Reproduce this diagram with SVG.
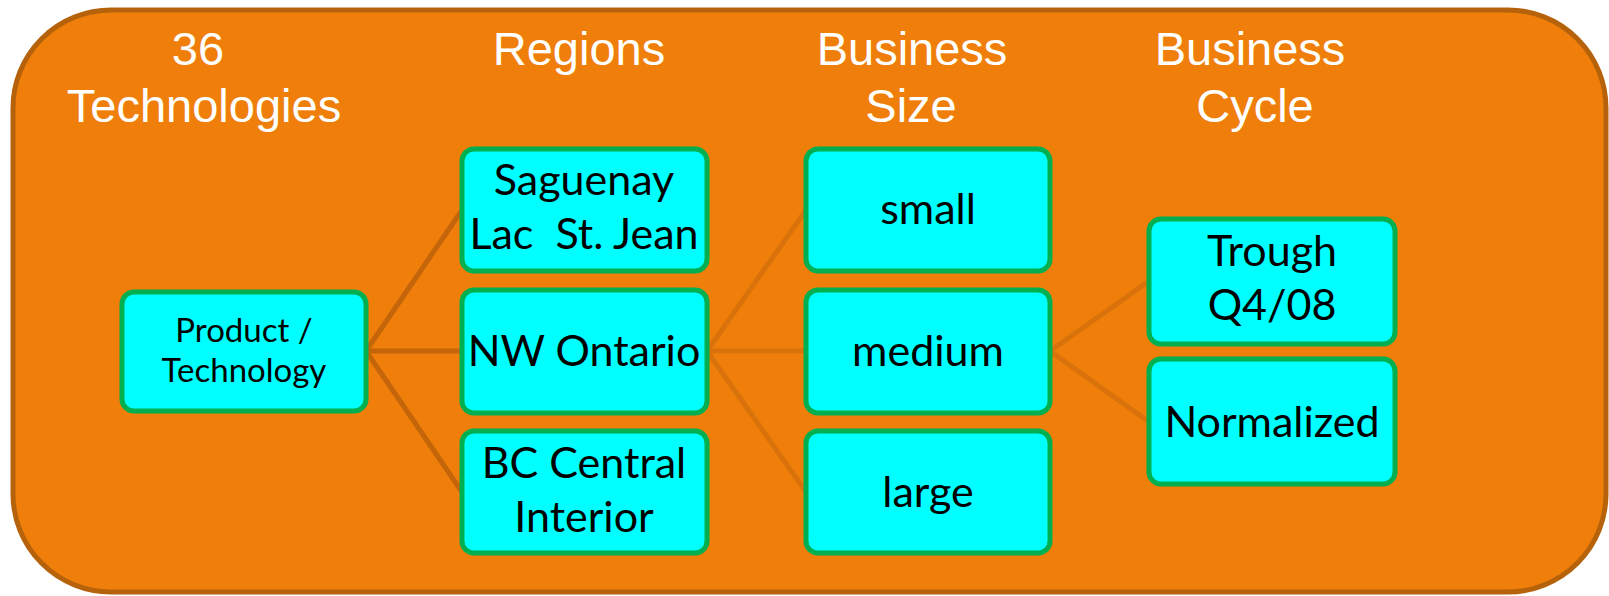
<svg xmlns="http://www.w3.org/2000/svg" width="1609" height="596" viewBox="0 0 1609 596">
<style>
.bg{fill:#EF7F0A;stroke:#B5620B;stroke-width:5}
.node{fill:#00FFFF;stroke:#00B050;stroke-width:5}
.hdr{font-family:"Liberation Sans",Arial,sans-serif;font-size:47px;fill:#FFFFFF;text-anchor:middle}
.lbl{font-family:Lato,"Noto Sans",sans-serif;font-size:43px;fill:#000000;text-anchor:middle}
.sm{font-size:33px}
.c1{stroke:#C4650A;stroke-width:5;fill:none}
.c2{stroke:#D9720A;stroke-width:5;fill:none}
</style>
<rect class="bg" x="13" y="10" width="1593" height="582" rx="98" ry="98"/>
<g id="headers">
<text class="hdr" x="198" y="65">36</text>
<text class="hdr" x="204" y="122">Technologies</text>
<text class="hdr" x="579" y="65">Regions</text>
<text class="hdr" x="912" y="65">Business</text>
<text class="hdr" x="911" y="122">Size</text>
<text class="hdr" x="1250" y="65">Business</text>
<text class="hdr" x="1255" y="122">Cycle</text>
</g>
<g id="connectors">
<line class="c1" x1="366" y1="351" x2="462" y2="210"/>
<line class="c1" x1="366" y1="351" x2="462" y2="351"/>
<line class="c1" x1="366" y1="351" x2="462" y2="492"/>
<line class="c2" x1="707" y1="351" x2="806" y2="210"/>
<line class="c2" x1="707" y1="351" x2="806" y2="351"/>
<line class="c2" x1="707" y1="351" x2="806" y2="492"/>
<line class="c2" x1="1050" y1="351" x2="1149" y2="281"/>
<line class="c2" x1="1050" y1="351" x2="1149" y2="422"/>
</g>
<g id="product">
<rect class="node" x="122" y="292" width="244" height="119" rx="12"/>
<text class="lbl sm" x="244" y="342">Product /</text>
<text class="lbl sm" x="244" y="382">Technology</text>
</g>
<g id="saguenay">
<rect class="node" x="462" y="149" width="245" height="122" rx="12"/>
<text class="lbl" x="584" y="195">Saguenay</text>
<text class="lbl" x="584" y="249" xml:space="preserve">Lac  St. Jean</text>
</g>
<g id="nwontario">
<rect class="node" x="462" y="290" width="245" height="123" rx="12"/>
<text class="lbl" x="584" y="366">NW Ontario</text>
</g>
<g id="bccentral">
<rect class="node" x="462" y="431" width="245" height="122" rx="12"/>
<text class="lbl" x="584" y="478">BC Central</text>
<text class="lbl" x="584" y="532">Interior</text>
</g>
<g id="small">
<rect class="node" x="806" y="149" width="244" height="122" rx="12"/>
<text class="lbl" x="928" y="224">small</text>
</g>
<g id="medium">
<rect class="node" x="806" y="290" width="244" height="123" rx="12"/>
<text class="lbl" x="928" y="366">medium</text>
</g>
<g id="large">
<rect class="node" x="806" y="431" width="244" height="122" rx="12"/>
<text class="lbl" x="928" y="507">large</text>
</g>
<g id="trough">
<rect class="node" x="1149" y="219" width="246" height="125" rx="12"/>
<text class="lbl" x="1272" y="266">Trough</text>
<text class="lbl" x="1272" y="320">Q4/08</text>
</g>
<g id="normalized">
<rect class="node" x="1149" y="359" width="246" height="125" rx="12"/>
<text class="lbl" x="1272" y="437">Normalized</text>
</g>
</svg>
